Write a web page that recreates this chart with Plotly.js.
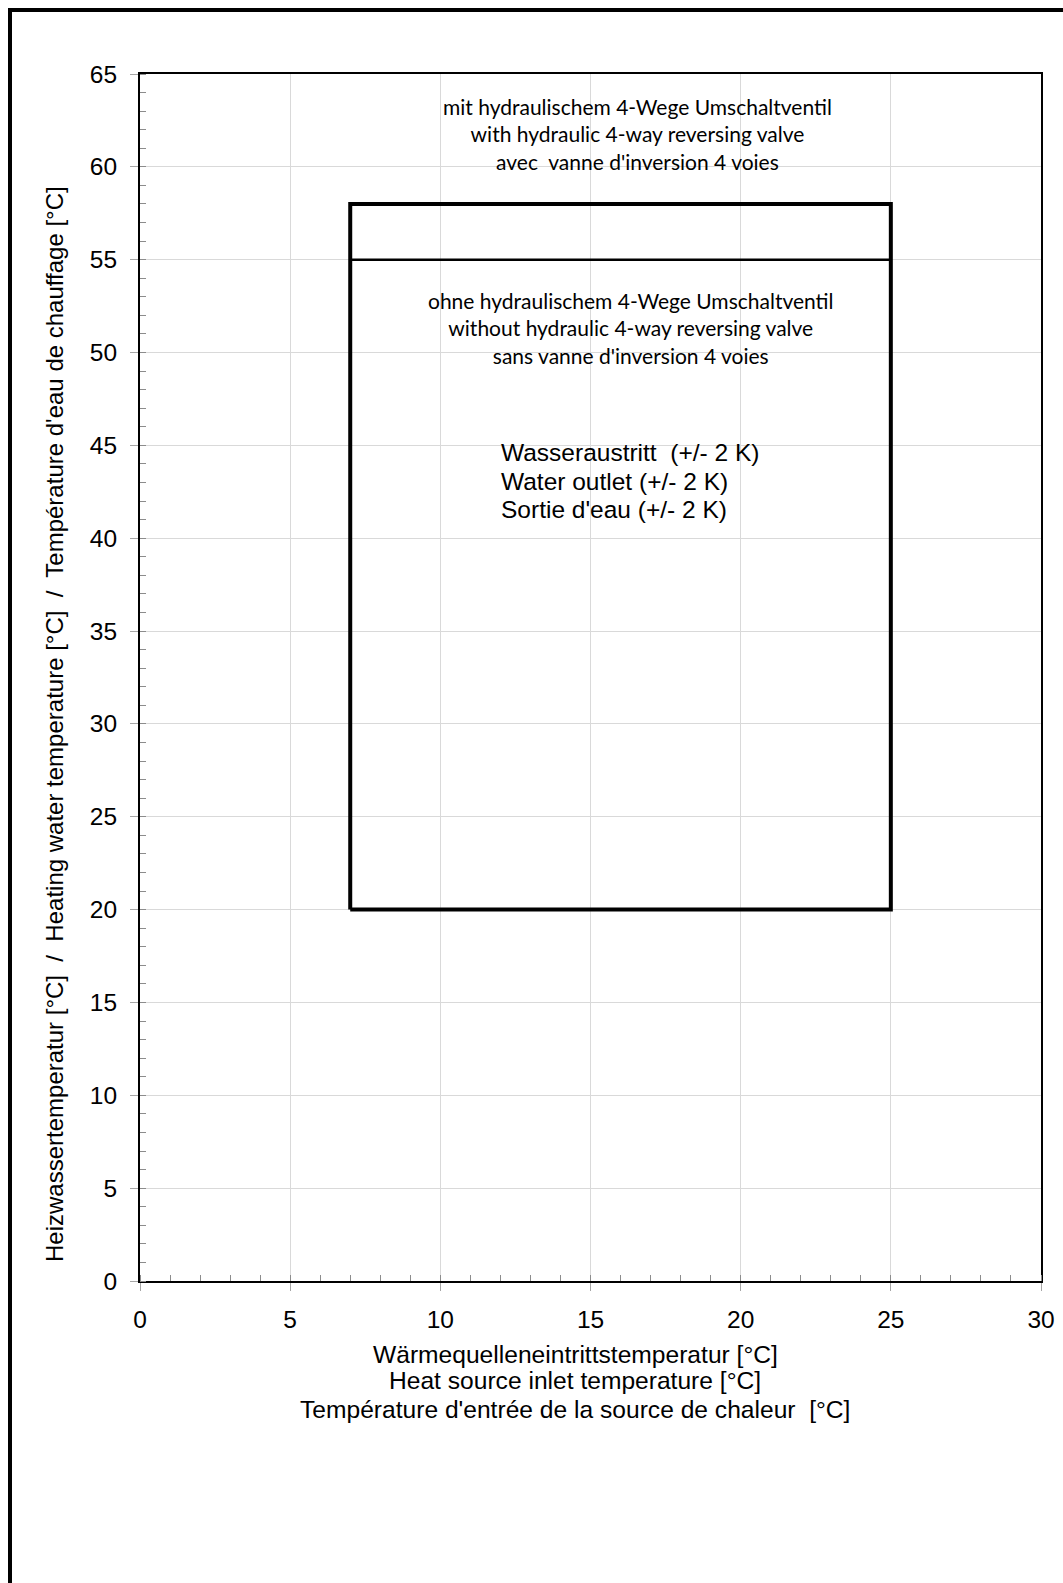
<!DOCTYPE html>
<html><head><meta charset="utf-8">
<script src="https://cdn.plot.ly/plotly-3.0.1.min.js"></script>
<style>html,body{margin:0;padding:0;background:#fff}</style>
</head><body><div id="chart" style="width:1063px;height:1583px"></div>
<script>
// Operating envelope (heat source inlet temp vs heating water temp)
const envelopeX = [7, 25, 25, 7, 7];
const envelopeY = [20, 20, 58, 58, 20];
// Upper limit without hydraulic 4-way reversing valve
const limitX = [7, 25];
const limitY = [55, 55];
// Axis ticks
const xTicks = [0, 5, 10, 15, 20, 25, 30];
const yTicks = [0, 5, 10, 15, 20, 25, 30, 35, 40, 45, 50, 55, 60, 65];
// Texts
const textWithValve = "mit hydraulischem 4-Wege Umschaltventil<br>with hydraulic 4-way reversing valve<br>avec\u00A0 vanne d'inversion 4 voies";
const textWithoutValve = "ohne hydraulischem 4-Wege Umschaltventil<br>without hydraulic 4-way reversing valve<br>sans vanne d'inversion 4 voies";
const outletLines = ["Wasseraustritt\u00A0 (+/- 2 K)", "Water outlet (+/- 2 K)", "Sortie d'eau (+/- 2 K)"];
const xTitleLines = ["Wärmequelleneintrittstemperatur [°C]", "Heat source inlet temperature [°C]", "Température d'entrée de la source de chaleur\u00A0 [°C]"];
const yTitle = "Heizwassertemperatur [°C]\u00A0 /\u00A0 Heating water temperature [°C]\u00A0 /\u00A0 Température d'eau de chauffage [°C]";

const W = 1063, H = 1583;
const L = 140, R = 1041, T = 74, B = 1281;
const px = v => (v - L) / (R - L);
const py = v => (B - v) / (B - T);

const arial = "Liberation Sans, Arial, sans-serif";
const calibri = "Lato, Carlito, Calibri, sans-serif";

const traces = [
  {x: envelopeX, y: envelopeY, type: 'scatter', mode: 'lines', line: {color: '#000', width: 4}, hoverinfo: 'skip'},
  {x: limitX, y: limitY, type: 'scatter', mode: 'lines', line: {color: '#000', width: 2.5}, hoverinfo: 'skip'}
];

const axisCommon = {
  showline: true, linecolor: '#000', linewidth: 2, mirror: true,
  showgrid: true, gridcolor: '#d9d9d9', gridwidth: 1,
  zeroline: false,
  ticks: 'outside', ticklen: 8, tickwidth: 1, tickcolor: '#a6a6a6',
  tickfont: {family: arial, size: 24.5, color: '#000'},
  ticklabelstandoff: 8,
  fixedrange: true
};

const annotations = [
  {xref: 'paper', yref: 'paper', x: px(637.5), y: py(134), xanchor: 'center', yanchor: 'middle',
   text: textWithValve, showarrow: false, font: {family: calibri, size: 21, color: '#000'}},
  {xref: 'paper', yref: 'paper', x: px(631), y: py(327.5), xanchor: 'center', yanchor: 'middle',
   text: textWithoutValve, showarrow: false, font: {family: calibri, size: 21, color: '#000'}}
];
[452.5, 481, 509.5].forEach((yy, i) => annotations.push({
  xref: 'paper', yref: 'paper', x: px(499), y: py(yy), xanchor: 'left', yanchor: 'middle',
  text: outletLines[i], showarrow: false, font: {family: arial, size: 24.5, color: '#000'}
}));
[1354, 1381, 1409].forEach((yy, i) => annotations.push({
  xref: 'paper', yref: 'paper', x: px(575), y: py(yy), xanchor: 'center', yanchor: 'middle',
  text: xTitleLines[i], showarrow: false, font: {family: arial, size: 24.6, color: '#000'}
}));
annotations.push({
  xref: 'paper', yref: 'paper', x: px(55), y: py(724), xanchor: 'center', yanchor: 'middle',
  textangle: -90, text: yTitle, showarrow: false, font: {family: arial, size: 24, color: '#000'}
});

const shapes = [
  // white text-box backgrounds hiding the grid
  {type: 'rect', xref: 'paper', yref: 'paper', x0: px(413), x1: px(862), y0: py(92), y1: py(187), fillcolor: '#fff', line: {width: 0}, layer: 'between'},
  {type: 'rect', xref: 'paper', yref: 'paper', x0: px(400), x1: px(863), y0: py(286), y1: py(372), fillcolor: '#fff', line: {width: 0}, layer: 'between'},
  {type: 'rect', xref: 'paper', yref: 'paper', x0: px(476), x1: px(785), y0: py(430), y1: py(530), fillcolor: '#fff', line: {width: 0}, layer: 'between'},
  // outer frame (left and top)
  {type: 'line', xref: 'paper', yref: 'paper', x0: px(10), x1: px(10), y0: py(H + 5), y1: py(8), line: {color: '#000', width: 4}},
  {type: 'line', xref: 'paper', yref: 'paper', x0: px(8), x1: px(W + 5), y0: py(10), y1: py(10), line: {color: '#000', width: 4}}
];

const layout = {
  width: W, height: H,
  margin: {l: L, r: W - R, t: T, b: H - B, pad: 0},
  paper_bgcolor: '#fff', plot_bgcolor: '#fff',
  showlegend: false,
  xaxis: Object.assign({}, axisCommon, {
    range: [0, 30], tickvals: xTicks, ticktext: xTicks.map(String),
    minor: {ticks: 'inside', ticklen: 6, tickwidth: 1, tickcolor: '#8c8c8c', dtick: 1, tick0: 0, showgrid: false}
  }),
  yaxis: Object.assign({}, axisCommon, {
    range: [0, 65], tickvals: yTicks, ticktext: yTicks.map(String),
    minor: {ticks: 'inside', ticklen: 6, tickwidth: 1, tickcolor: '#8c8c8c', dtick: 1, tick0: 0, showgrid: false}
  }),
  annotations: annotations,
  shapes: shapes
};

Plotly.newPlot('chart', traces, layout, {displayModeBar: false, staticPlot: true});
</script>
</body></html>
